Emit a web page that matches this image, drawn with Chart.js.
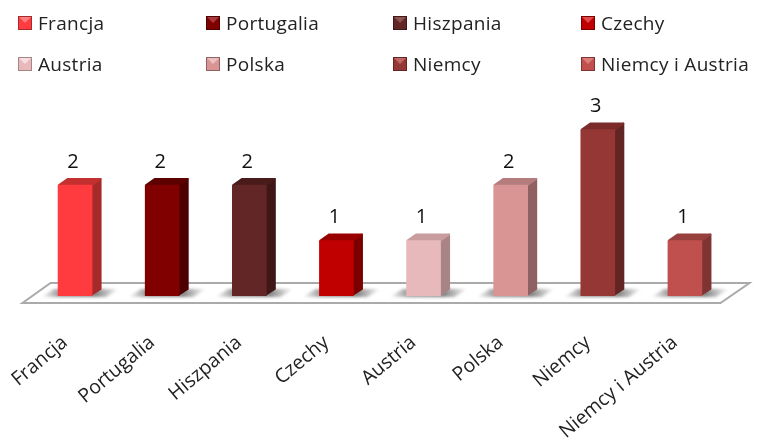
<!DOCTYPE html>
<html lang="pl">
<head>
<meta charset="utf-8">
<title>Wykres</title>
<script src="https://cdn.jsdelivr.net/npm/chart.js@4/dist/chart.umd.min.js"></script>
<style>
    html, body { margin: 0; padding: 0; background: #fff; overflow: hidden; }
    #wrap { position: relative; width: 763px; height: 443px; }
    #chart { position: absolute; left: 0; top: 0; }
    #legend { position: absolute; left: 18px; top: 0; width: 750px; display: grid;
        grid-template-columns: 188px 187px 188px 170px; grid-auto-rows: 41px; padding-top: 2px;
        font: 19px "Open Sans", sans-serif; color: #222; letter-spacing: 0.3px; }
    .item { display: flex; align-items: center; white-space: nowrap; }
    .swatch { width: 0; height: 0; margin-right: 6px; border-style: solid; border-width: 7px;
        outline: 1px solid; outline-offset: -1px; }
</style>
</head>
<body>
<div id="wrap">
    <canvas id="chart" width="763" height="443"></canvas>
    <div id="legend"></div>
</div>
<script>
"use strict";

const categories = ["Francja", "Portugalia", "Hiszpania", "Czechy", "Austria", "Polska", "Niemcy", "Niemcy i Austria"];
const values = [2, 2, 2, 1, 1, 2, 3, 1];

const frontColors = ["#ff3b3f", "#800000", "#632626", "#c00000", "#e8b9bb", "#d99594", "#953735", "#c0504d"];
const sideColors = ["#a52a2a", "#4d0000", "#3f1717", "#7a0000", "#a98486", "#8f6162", "#632523", "#7d3432"];
const topColors = ["#c4302f", "#5c0000", "#4a1b1b", "#980000", "#c99c9e", "#b57c7d", "#7a2b2a", "#98403e"];
const swatchLightColors = ["#ff7d80", "#a83a3a", "#8d5252", "#e04a4a", "#f6dfe0", "#ecc0c0", "#bf6967", "#d97e7b"];

const depthX = 9.5;
const depthY = 7;

// legend is laid out as a 4 column grid, the chart one cannot line up its columns
let legendElement = document.getElementById("legend");
categories.forEach((name, i) => {
    let item = document.createElement("div");
    item.className = "item";
    let swatch = document.createElement("span");
    swatch.className = "swatch";
    swatch.style.borderColor = `${swatchLightColors[i]} ${frontColors[i]} ${frontColors[i]} ${frontColors[i]}`;
    swatch.style.outlineColor = sideColors[i];
    item.appendChild(swatch);
    item.appendChild(document.createTextNode(name));
    legendElement.appendChild(item);
});

const floorPlugin = {
    id: "floor",
    beforeDatasetsDraw(chart) {
        const ctx = chart.ctx;
        const area = chart.chartArea;
        const base = chart.scales.y.getPixelForValue(0);
        ctx.save();
        ctx.beginPath();
        ctx.moveTo(area.left + 19, base - 13);
        ctx.lineTo(area.right + 21, base - 13);
        ctx.lineTo(area.right - 8, base + 7);
        ctx.lineTo(area.left - 9, base + 7);
        ctx.closePath();
        ctx.fillStyle = "#fff";
        ctx.fill();
        ctx.lineWidth = 2;
        ctx.strokeStyle = "#aaaaaa";
        ctx.stroke();

        // soft shadow the bars throw on the floor
        ctx.filter = "blur(1.5px)";
        chart.getDatasetMeta(0).data.forEach((bar) => {
            const left = bar.x - bar.width / 2;
            const right = bar.x + bar.width / 2;
            let shade = ctx.createLinearGradient(left - 17, 0, right + 27, 0);
            shade.addColorStop(0, "rgba(110,110,110,0)");
            shade.addColorStop(0.25, "rgba(110,110,110,0.75)");
            shade.addColorStop(0.7, "rgba(110,110,110,0.85)");
            shade.addColorStop(1, "rgba(110,110,110,0)");
            ctx.fillStyle = shade;
            ctx.beginPath();
            ctx.moveTo(left - 17, base + 1);
            ctx.lineTo(left - 4, base - 7);
            ctx.lineTo(right + 27, base - 7);
            ctx.lineTo(right + 14, base + 1);
            ctx.closePath();
            ctx.fill();
        });
        ctx.restore();
    }
};

const depthPlugin = {
    id: "depth",
    beforeDatasetDraw(chart) {
        const ctx = chart.ctx;
        const base = chart.scales.y.getPixelForValue(0);
        ctx.save();
        ctx.lineJoin = "round";
        ctx.lineWidth = 2;
        chart.getDatasetMeta(0).data.forEach((bar, i) => {
            const left = bar.x - bar.width / 2;
            const right = bar.x + bar.width / 2;

            ctx.fillStyle = sideColors[i];
            ctx.strokeStyle = sideColors[i];
            ctx.beginPath();
            ctx.moveTo(right - 1, bar.y);
            ctx.lineTo(right + depthX - 1, bar.y - depthY + 1);
            ctx.lineTo(right + depthX - 1, base - depthY);
            ctx.lineTo(right - 1, base - 1);
            ctx.closePath();
            ctx.fill();
            ctx.stroke();

            ctx.fillStyle = topColors[i];
            ctx.strokeStyle = topColors[i];
            ctx.beginPath();
            ctx.moveTo(left + 1, bar.y);
            ctx.lineTo(left + depthX, bar.y - depthY + 1);
            ctx.lineTo(right + depthX - 1, bar.y - depthY + 1);
            ctx.lineTo(right, bar.y);
            ctx.closePath();
            ctx.fill();
            ctx.stroke();
        });
        ctx.restore();
    }
};

const valueLabelPlugin = {
    id: "valueLabels",
    afterDatasetsDraw(chart) {
        const ctx = chart.ctx;
        ctx.save();
        ctx.font = '20px "Open Sans", sans-serif';
        ctx.fillStyle = "#111";
        ctx.textAlign = "center";
        ctx.textBaseline = "middle";
        chart.getDatasetMeta(0).data.forEach((bar, i) => {
            ctx.fillText(String(values[i]), bar.x - 2, bar.y - 23);
        });
        ctx.restore();
    }
};

new Chart(document.getElementById("chart"), {
    type: "bar",
    data: {
        labels: categories,
        datasets: [{
            data: values,
            backgroundColor: frontColors,
            barThickness: 34,
            borderRadius: 1,
            borderSkipped: "bottom"
        }]
    },
    options: {
        responsive: false,
        animation: false,
        layout: {
            padding: {left: 31.5, right: 34.5, top: 74, bottom: 0}
        },
        plugins: {
            legend: {display: false},
            tooltip: {enabled: false}
        },
        scales: {
            x: {
                grid: {display: false, drawTicks: false},
                border: {display: false},
                afterFit(scale) {
                    // fixed axis band, and the rotated labels must not push the plot area in
                    scale.height = 147;
                    scale.paddingLeft = 0;
                    scale.paddingRight = 0;
                },
                ticks: {
                    autoSkip: false,
                    minRotation: 40,
                    maxRotation: 40,
                    padding: 35,
                    labelOffset: -10,
                    color: "#222",
                    font: {family: '"Open Sans", sans-serif', size: 19.5}
                }
            },
            y: {
                display: false,
                min: 0,
                max: 4
            }
        }
    },
    plugins: [floorPlugin, depthPlugin, valueLabelPlugin]
});
</script>
</body>
</html>
